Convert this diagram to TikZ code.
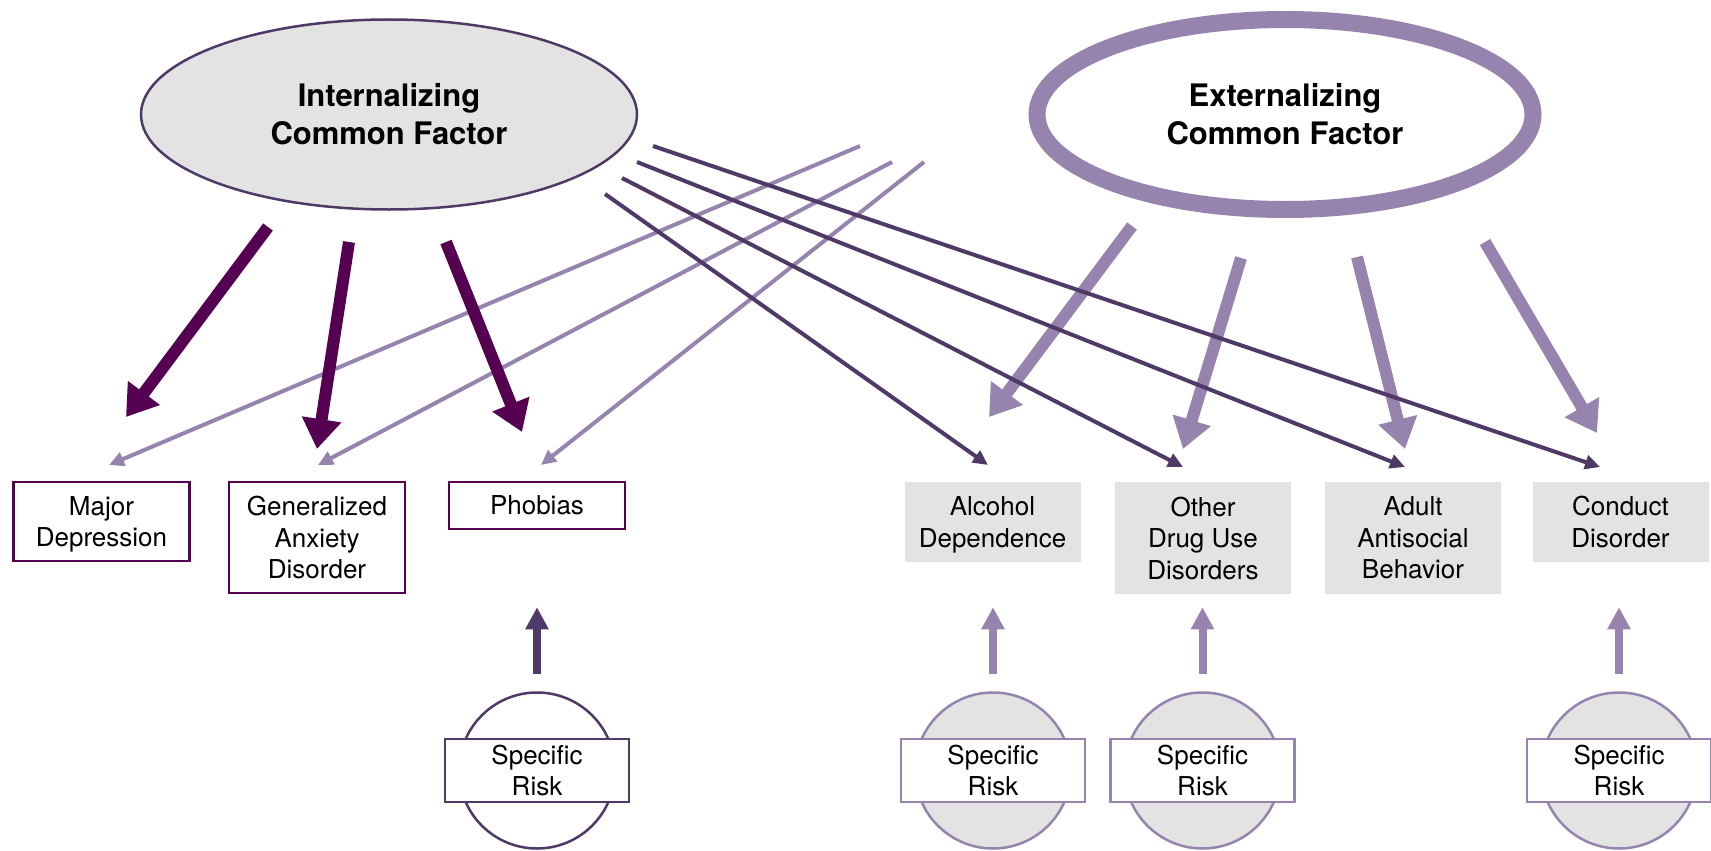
\documentclass[tikz,border=0pt]{standalone}
\usepackage{fontspec}
\setmainfont{TeX Gyre Heros}
\usetikzlibrary{arrows.meta,shapes.geometric}
\definecolor{dmag}{RGB}{86,0,82}
\definecolor{dsl}{RGB}{79,57,102}
\definecolor{lpur}{RGB}{150,132,174}
\definecolor{gfill}{RGB}{227,227,227}
\newcommand{\nodepth}[1]{\raisebox{0pt}[\height][0pt]{#1}}
\begin{document}
\begin{tikzpicture}[x=1pt,y=-1pt,
  every node/.style={font=\fontsize{26}{31.5}\selectfont, align=center, inner sep=0pt},
  inbox/.style={draw=dmag, line width=2.5pt, fill=white, minimum width=176pt},
  exbox/.style={fill=gfill, minimum width=176pt},
  factor/.style={ellipse, minimum width=496pt, minimum height=190pt, font=\bfseries\fontsize{31}{38}\selectfont},
  thickin/.style={draw=dmag, line width=12pt, -{Triangle[length=30pt,width=38pt]}},
  thickex/.style={draw=lpur, line width=12pt, -{Triangle[length=30pt,width=38pt]}},
  thinin/.style={draw=dsl, line width=4pt, -{Triangle[length=15pt,width=14pt]}},
  thinex/.style={draw=lpur, line width=4pt, -{Triangle[length=15pt,width=14pt]}},
  srcirc/.style={circle, minimum size=156pt, line width=2.5pt},
  srbox/.style={draw, fill=white, line width=2.5pt, minimum width=184pt, minimum height=63pt},
  srarrow/.style={line width=8pt, -{Triangle[length=22pt,width=22pt]}},
]
\useasboundingbox (0,0) rectangle (1711,851);

% factors
\node[factor, draw=dsl, line width=2.5pt, fill=gfill] (inf) at (389,114.5) {Internalizing\\Common Factor};
\node[factor, draw=lpur, line width=17pt, fill=white] (exf) at (1285,114.5) {Externalizing\\Common Factor};

% disorder boxes
\node[inbox, minimum height=79pt] (md) at (101.5,521.5) {Major\\\nodepth{Depression}};
\node[inbox, minimum height=111pt] (gad) at (317,537.5) {Generalized\\Anxiety\\Disorder};
\node[inbox, minimum height=47pt] (pho) at (537,505.5) {\nodepth{Phobias}};
\node[exbox, minimum height=80pt] (alc) at (992.5,522) {Alcohol\\\nodepth{Dependence}};
\node[exbox, minimum height=112pt] (odu) at (1203,538) {Other\\Drug Use\\Disorders};
\node[exbox, minimum height=112pt] (aab) at (1413,538) {Adult\\Antisocial\\Behavior};
\node[exbox, minimum height=80pt] (cd) at (1620.5,522) {Conduct\\Disorder};

% specific risk
\node[srcirc, draw=dsl, fill=white] (sr1c) at (537,770.5) {};
\node[srbox, draw=dsl] (sr1) at (537,770.5) {Specific\\Risk};
\node[srcirc, draw=lpur, fill=gfill] (sr2c) at (993,770.5) {};
\node[srbox, draw=lpur] (sr2) at (993,770.5) {Specific\\Risk};
\node[srcirc, draw=lpur, fill=gfill] (sr3c) at (1202.5,770.5) {};
\node[srbox, draw=lpur] (sr3) at (1202.5,770.5) {Specific\\Risk};
\node[srcirc, draw=lpur, fill=gfill] (sr4c) at (1619,770.5) {};
\node[srbox, draw=lpur] (sr4) at (1619,770.5) {Specific\\Risk};

\draw[srarrow, dsl] ([yshift=17pt]sr1c.north) -- ([yshift=84pt]sr1c.north);
\draw[srarrow, lpur] ([yshift=17pt]sr2c.north) -- ([yshift=84pt]sr2c.north);
\draw[srarrow, lpur] ([yshift=17pt]sr3c.north) -- ([yshift=84pt]sr3c.north);
\draw[srarrow, lpur] ([yshift=17pt]sr4c.north) -- ([yshift=84pt]sr4c.north);

% connector end points
\coordinate (lmdS) at (860,146);  \coordinate (lmdE) at (109,465);
\coordinate (lgadS) at (892,162); \coordinate (lgadE) at (318,465);
\coordinate (lphoS) at (924,162); \coordinate (lphoE) at (541,465);

\coordinate (xalcS) at (1132,226); \coordinate (xalcE) at (989,417);
\coordinate (xoduS) at (1241,258); \coordinate (xoduE) at (1183,449);
\coordinate (xaabS) at (1357,257); \coordinate (xaabE) at (1405,449);
\coordinate (xcdS) at (1485,242);  \coordinate (xcdE) at (1597,433);

\coordinate (dalcS) at (605,194); \coordinate (dalcE) at (988,465);
\coordinate (doduS) at (622,178); \coordinate (doduE) at (1183,467);
\coordinate (daabS) at (637,162); \coordinate (daabE) at (1405,467);
\coordinate (dcdS) at (653,146);  \coordinate (dcdE) at (1600,467);

\coordinate (imdS) at (268,227);  \coordinate (imdE) at (126,417);
\coordinate (igadS) at (349,242); \coordinate (igadE) at (317,449);
\coordinate (iphoS) at (446,242); \coordinate (iphoE) at (522,432);

% light thin (externalizing -> internalizing disorders)
\draw[thinex] (lmdS) -- (lmdE);
\draw[thinex] (lgadS) -- (lgadE);
\draw[thinex] (lphoS) -- (lphoE);
% light thick
\draw[thickex] (xalcS) -- (xalcE);
\draw[thickex] (xoduS) -- (xoduE);
\draw[thickex] (xaabS) -- (xaabE);
\draw[thickex] (xcdS) -- (xcdE);
% dark thin
\draw[thinin] (dalcS) -- (dalcE);
\draw[thinin] (doduS) -- (doduE);
\draw[thinin] (daabS) -- (daabE);
\draw[thinin] (dcdS) -- (dcdE);
% dark thick
\draw[thickin] (imdS) -- (imdE);
\draw[thickin] (igadS) -- (igadE);
\draw[thickin] (iphoS) -- (iphoE);
\end{tikzpicture}
\end{document}
